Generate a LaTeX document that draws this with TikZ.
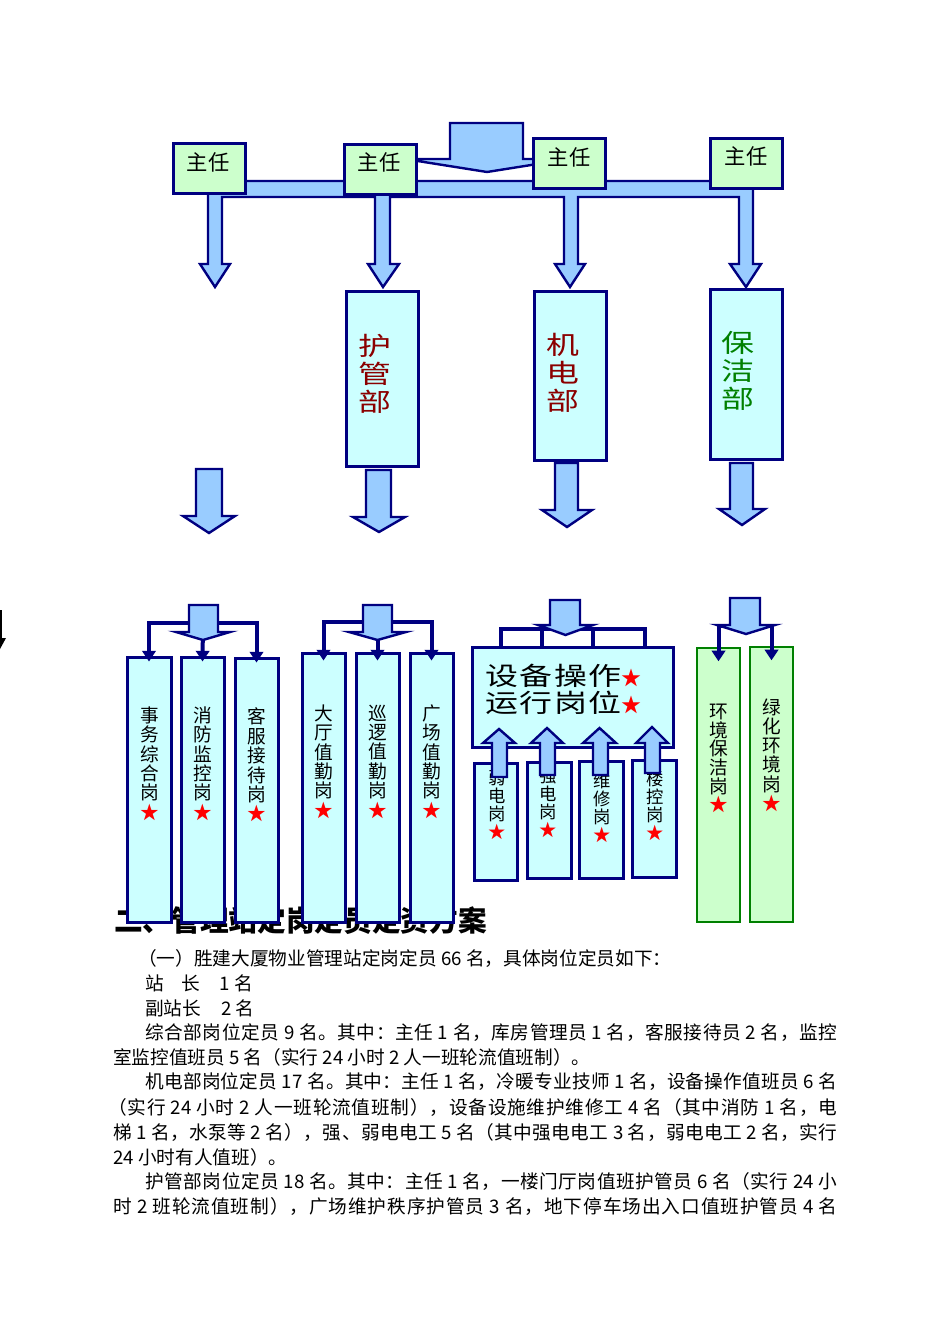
\documentclass[tikz,border=0pt]{standalone}
\usepackage{fontspec}
\setmainfont{Noto Sans CJK SC}
\newfontfamily\widecjk[FakeStretch=1.3]{Noto Sans CJK SC}
\newfontfamily\widecjksp[FakeStretch=1.3,LetterSpace=6]{Noto Sans CJK SC}
\usetikzlibrary{arrows.meta,fit}
\def\spreadloop#1{\ifx#1\relax\else#1\hskip0pt plus 1fil\relax\expandafter\spreadloop\fi}
\newcommand\spreadtext[1]{\spreadloop#1\relax\unskip}
\newcommand\jline[2]{\makebox[#1][s]{\spreadtext{#2}}}
\definecolor{navy}{RGB}{0,0,128}
\definecolor{arrowblue}{RGB}{153,204,255}
\definecolor{boxcyan}{RGB}{204,255,255}
\definecolor{boxgreen}{RGB}{204,255,204}
\definecolor{darkgreen}{RGB}{0,128,0}
\definecolor{deptred}{RGB}{139,0,0}
\newcommand\st{\textcolor{red}{★}}
\newcommand\blkdown[7]{\draw[barrow] (#1,#3) -- (#2,#3) -- (#2,#4) -- (#6,#4) -- ({(#5+#6)/2},#7) -- (#5,#4) -- (#1,#4) -- cycle;}
\tikzset{
  zrbox/.style={draw=navy, line width=2.25pt, fill=boxgreen, inner sep=0pt},
  deptbox/.style={draw=navy, line width=2.25pt, fill=boxcyan, inner sep=0pt},
  gbox/.style={draw=darkgreen, line width=2pt, fill=boxgreen, inner sep=0pt},
  barrow/.style={draw=navy, line width=1.8pt, fill=arrowblue, line join=miter},
  conn/.style={draw=navy, line width=3pt},
  connarr/.style={conn, -{Triangle[width=10pt,length=8pt]}},
  zrtext/.style={inner sep=0pt, font=\fontsize{16}{16}\selectfont},
  depttext/.style={inner sep=0pt, align=center, font=\widecjk\fontsize{19}{21}\selectfont},
  vlab/.style={inner sep=0pt, align=center, font=\fontsize{14}{14.55}\selectfont},
  vlabs/.style={inner sep=0pt, align=center, font=\fontsize{13}{13.5}\selectfont},
  body/.style={anchor=west, inner sep=0pt, font=\fontsize{14}{14}\selectfont},
}
\begin{document}
\begin{tikzpicture}[x=0.75pt,y=-0.75pt]
\useasboundingbox (0,0) rectangle (950,1344);
\clip (0,0) rectangle (950,1344);
\fill[white] (0,0) rectangle (950,1344);

% ---------- top: bar with four arrows ----------
\draw[barrow] (208,181) -- (753,181) -- (753,264) -- (761,264) -- (746,287) -- (730,264) -- (739,264) -- (739,197)
  -- (578,197) -- (578,264) -- (585,264) -- (570,287) -- (555,264) -- (564,264) -- (564,197)
  -- (390,197) -- (390,264) -- (399,264) -- (383,287) -- (368,264) -- (375,264) -- (375,197)
  -- (222,197) -- (222,264) -- (230,264) -- (215,287) -- (200,264) -- (208,264) -- cycle;
\draw[barrow] (450,123) -- (523,123) -- (523,159) -- (569,159) -- (487,172) -- (405,159) -- (450,159) -- cycle;

\node[zrbox, fit={(173,144) (245,194)}] (z1) {};
\node[zrbox, fit={(344,145) (416,195)}] (z2) {};
\node[zrbox, fit={(533,139) (605,189)}] (z3) {};
\node[zrbox, fit={(710,139) (782,189)}] (z4) {};
\node[zrtext] (z1t) at (208,162) {主任};
\node[zrtext] (z2t) at (379,162) {主任};
\node[zrtext] (z3t) at (569,157) {主任};
\node[zrtext] (z4t) at (746,156) {主任};

% ---------- departments ----------
\node[deptbox, fit={(346,292) (418,466)}] (hg) {};
\node[deptbox, fit={(534,292) (606,460)}] (jd) {};
\node[deptbox, fit={(710,290) (782,459)}] (bj) {};
\node[depttext, text=deptred] (hgt) at (375,373.5) {护\\管\\部};
\node[depttext, text=deptred] (jdt) at (563,372.5) {机\\电\\部};
\node[depttext, text=darkgreen] (bjt) at (738,371) {保\\洁\\部};

\blkdown{196}{222}{469}{516}{183}{235}{533}
\blkdown{366}{391}{470}{517}{353}{405}{532}
\blkdown{555}{578}{463}{510}{542}{592}{527}
\blkdown{730}{753}{463}{509}{719}{765}{525}

% stray arrow at the left edge
\draw[line width=3pt] (0,610) -- (0,640);
\fill (-6,638) -- (6,638) -- (0,649) -- cycle;

% ---------- title (partly hidden by the boxes) ----------
\node[anchor=west, inner sep=0pt, font=\fontsize{21.5}{21.5}\selectfont\bfseries] (title) at (114,921) {二、管理站定岗定员定资方案};

% ---------- bottom groups ----------
\node[deptbox, fit={(127,657) (171,922)}] (b1a) {};
\node[deptbox, fit={(181,657) (224,922)}] (b1b) {};
\node[deptbox, fit={(235,658) (278,922)}] (b1c) {};
\node[vlab] (b1at) at (150,763.5) {事\\务\\综\\合\\岗\\\st};
\node[vlab] (b1bt) at (203,763.5) {消\\防\\监\\控\\岗\\\st};
\node[vlab] (b1ct) at (257,765) {客\\服\\接\\待\\岗\\\st};

\node[deptbox, fit={(302,653) (345,922)}] (b2a) {};
\node[deptbox, fit={(356,653) (399,922)}] (b2b) {};
\node[deptbox, fit={(410,653) (453,922)}] (b2c) {};
\node[vlab] (b2at) at (324,761.5) {大\\厅\\值\\勤\\岗\\\st};
\node[vlab] (b2bt) at (378,761.5) {巡\\逻\\值\\勤\\岗\\\st};
\node[vlab] (b2ct) at (432,761.5) {广\\场\\值\\勤\\岗\\\st};

\node[deptbox, fit={(472,647) (673,747)}] (b3) {};
\node[anchor=west, inner sep=0pt, font=\widecjksp\fontsize{19}{21}\selectfont] (b3t1) at (485,676) {设备操作{\normalfont\fontsize{15}{15}\selectfont\st}};
\node[anchor=west, inner sep=0pt, font=\widecjksp\fontsize{19}{21}\selectfont] (b3t2) at (485,703) {运行岗位{\normalfont\fontsize{15}{15}\selectfont\st}};
\node[deptbox, fit={(474,763) (517,880)}] (s1) {};
\node[deptbox, fit={(527,762) (571,878)}] (s2) {};
\node[deptbox, fit={(579,761) (623,878)}] (s3) {};
\node[deptbox, fit={(632,760) (676,877)}] (s4) {};
\node[vlabs] (s1t) at (497,805) {弱\\电\\岗\\\st};
\node[vlabs] (s2t) at (548,803) {强\\电\\岗\\\st};
\node[vlabs] (s3t) at (602,807.5) {维\\修\\岗\\\st};
\node[vlabs] (s4t) at (655,806) {楼\\控\\岗\\\st};

\node[gbox, fit={(697,648) (740,922)}] (g4a) {};
\node[gbox, fit={(750,647) (793,922)}] (g4b) {};
\node[vlab, font=\fontsize{14}{13.95}\selectfont] (g4at) at (719,758.5) {环\\境\\保\\洁\\岗\\\st};
\node[vlab, font=\fontsize{14}{14.4}\selectfont] (g4bt) at (772,755) {绿\\化\\环\\境\\岗\\\st};

% ---------- connectors ----------
\coordinate (j1) at (203,623);
\draw[connarr] (j1) -| ([yshift=-4.5pt]b1a.north);
\draw[connarr] (j1) -| ([yshift=-4.5pt]b1c.north);
\draw[connarr] (j1) -- ([yshift=-4.5pt]b1b.north);

\coordinate (j2) at (377.5,622);
\draw[connarr] (j2) -| ([yshift=-6.75pt]b2a.north);
\draw[connarr] (j2) -| ([yshift=-6.75pt]b2c.north);
\draw[connarr] (j2) -- ([yshift=-6.75pt]b2b.north);

\coordinate (k1) at (501,629);
\coordinate (k2) at (542,629);
\coordinate (k3) at (593,629);
\coordinate (k4) at (645,629);
\draw[conn] (k1 |- b3.north) -- (k1) -- (k4) -- (k4 |- b3.north);
\draw[conn] (k2) -- (k2 |- b3.north);
\draw[conn] (k3) -- (k3 |- b3.north);

\coordinate (j4) at (746,626);
\draw[connarr] (j4) -| ([yshift=-11pt]g4a.north);
\draw[connarr] (j4) -| ([yshift=-11pt]g4b.north);

% block arrows of the bottom groups
\blkdown{189}{218}{605}{632}{176}{230}{640}
\blkdown{363}{392}{605}{632}{349}{406}{640}
\blkdown{550}{580}{600}{625}{538}{593}{635}
\blkdown{730}{760}{598}{625}{717}{775}{634}

% up arrows into the equipment box
\blkdown{492}{507}{777}{743}{483}{515}{729}
\blkdown{540}{555}{775}{743}{531}{563}{728}
\blkdown{593}{608}{775}{743}{583}{616}{728}
\blkdown{645}{660}{773}{743}{636}{668}{727}

% ---------- body text ----------
\node[body] (t1) at (138,958) {（一）胜建大厦物业管理站定岗定员 66 名，具体岗位定员如下：};
\node[body] (t2) at (145,983) {站\hspace{13pt}长\hspace{15pt}1 名};
\node[body] (t3) at (145,1008) {副站长\hspace{15pt}2 名};
\node[body] (t4) at (145,1033) {\jline{519pt}{综合部岗位定员{~9~}名。其中：主任{~1~}名，库房管理员{~1~}名，客服接待员{~2~}名，监控}};
\node[body] (t5) at (113,1057) {室监控值班员 5 名（实行 24 小时 2 人一班轮流值班制）。};
\node[body] (t6) at (145,1082) {\jline{519pt}{机电部岗位定员{~17~}名。其中：主任{~1~}名，冷暖专业技师{~1~}名，设备操作值班员{~6~}名}};
\node[body] (t7) at (108,1107) {\jline{546.75pt}{（实行{~24~}小时{~2~}人一班轮流值班制），设备设施维护维修工{~4~}名（其中消防{~1~}名，电}};
\node[body] (t8) at (113,1132) {\jline{543pt}{梯{~1~}名，水泵等{~2~}名），强、弱电电工{~5~}名（其中强电电工{~3~}名，弱电电工{~2~}名，实行}};
\node[body] (t9) at (113,1157) {24 小时有人值班）。};
\node[body] (t10) at (145,1181) {\jline{519pt}{护管部岗位定员{~18~}名。其中：主任{~1~}名，一楼门厅岗值班护管员{~6~}名（实行{~24~}小}};
\node[body] (t11) at (113,1206) {\jline{543pt}{时{~2~}班轮流值班制），广场维护秩序护管员{~3~}名，地下停车场出入口值班护管员{~4~}名}};
\end{tikzpicture}
\end{document}
